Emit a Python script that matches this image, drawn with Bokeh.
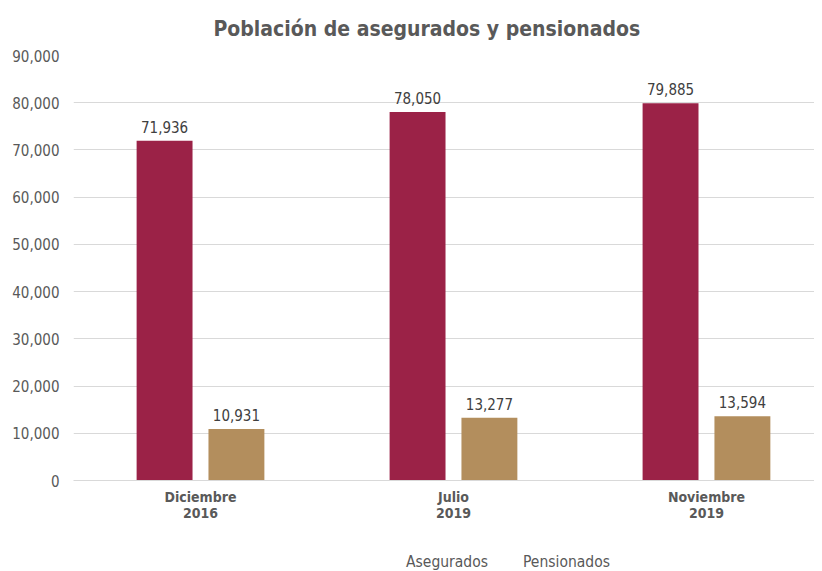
from bokeh.plotting import figure
from bokeh.layouts import column
from bokeh.models import (ColumnDataSource, FixedTicker, NumeralTickFormatter, LabelSet,
                          Legend, LegendItem, Range1d)
from bokeh.core.properties import value
from bokeh.transform import dodge
from bokeh.embed import file_html
from bokeh.resources import INLINE

categories = ["Diciembre\n2016", "Julio\n2019", "Noviembre\n2019"]
series_names = ["Asegurados", "Pensionados"]
asegurados = [71936, 78050, 79885]
pensionados = [10931, 13277, 13594]
y_ticks = [0, 10000, 20000, 30000, 40000, 50000, 60000, 70000, 80000, 90000]

FONT = "DejaVu Sans Condensed"
GRAY = "#595959"
C_ASE = "#9b2247"
C_PEN = "#b38e5d"

xpos = list(range(len(categories)))
src = ColumnDataSource(dict(
    x=xpos,
    ase=asegurados,
    pen=pensionados,
    ase_lbl=[f"{v:,}" for v in asegurados],
    pen_lbl=[f"{v:,}" for v in pensionados],
))

p = figure(frame_width=741, frame_height=425, output_backend="svg", toolbar_location=None,
           x_range=Range1d(-0.502, 2.427), y_range=Range1d(0, 90000),
           min_border_left=73, min_border_right=0, min_border_top=55, min_border_bottom=50)

r1 = p.vbar(x=dodge("x", -0.142, range=p.x_range), top="ase", width=0.221, source=src,
            fill_color=C_ASE, line_color=None)
r2 = p.vbar(x=dodge("x", 0.142, range=p.x_range), top="pen", width=0.221, source=src,
            fill_color=C_PEN, line_color=None)

for col, off in (("ase", -0.142), ("pen", 0.142)):
    p.add_layout(LabelSet(x=dodge("x", off, range=p.x_range), y=col, text=col + "_lbl",
                          source=src, text_align="center", text_baseline="bottom",
                          y_offset=8, text_font_size=value("15px"), text_color="#404040",
                          text_font=value(FONT)))

p.title.text = "Población de asegurados y pensionados"
p.title.align = "left"
p.title.offset = 140
p.title.text_font = FONT
p.title.text_font_size = "21px"
p.title.text_font_style = "bold"
p.title.text_color = GRAY
p.title.standoff = 26
p.title.vertical_align = "top"

p.yaxis.ticker = FixedTicker(ticks=y_ticks)
p.yaxis.formatter = NumeralTickFormatter(format="0,0")
p.yaxis.axis_line_color = None
p.yaxis.major_tick_line_color = None
p.yaxis.minor_tick_line_color = None
p.yaxis.major_label_text_font = FONT
p.yaxis.major_label_text_font_size = "15px"
p.yaxis.major_label_text_color = GRAY
p.yaxis.major_label_standoff = 8

p.xaxis.ticker = FixedTicker(ticks=xpos)
p.xaxis.major_label_overrides = {i: c for i, c in zip(xpos, categories)}
p.xaxis.axis_line_color = "#d9d9d9"
p.xaxis.major_tick_line_color = None
p.xaxis.minor_tick_line_color = None
p.xaxis.major_label_text_font = FONT
p.xaxis.major_label_text_font_size = "14px"
p.xaxis.major_label_text_font_style = "bold"
p.xaxis.major_label_text_color = GRAY
p.xaxis.major_label_text_line_height = 1.0
p.xaxis.major_label_standoff = 2

p.xgrid.grid_line_color = None
p.ygrid.grid_line_color = "#d9d9d9"
p.outline_line_color = None

# Separate strip for the legend below the chart
pl = figure(width=814, height=41, output_backend="svg", toolbar_location=None,
            x_range=Range1d(0, 1), y_range=Range1d(0, 1),
            x_axis_location=None, y_axis_location=None,
            min_border_left=0, min_border_right=0, min_border_top=0, min_border_bottom=0)
pl.xgrid.grid_line_color = None
pl.ygrid.grid_line_color = None
pl.outline_line_color = None
empty = ColumnDataSource(dict(x=[], top=[]))
l1 = pl.vbar(x="x", top="top", width=0.1, source=empty, fill_color=C_ASE, line_color=None)
l2 = pl.vbar(x="x", top="top", width=0.1, source=empty, fill_color=C_PEN, line_color=None)

legend = Legend(items=[LegendItem(label=series_names[0], renderers=[l1]),
                       LegendItem(label=series_names[1], renderers=[l2])],
                orientation="horizontal", location=(320, 0),
                glyph_width=10, glyph_height=10, label_standoff=3, spacing=22,
                padding=0, margin=0, border_line_color=None, background_fill_alpha=0,
                label_text_font=FONT, label_text_font_size="15.5px", label_text_color=GRAY)
pl.add_layout(legend, "center")

layout = column(p, pl, spacing=0)
open("out.html", "w").write(file_html(layout, INLINE))
